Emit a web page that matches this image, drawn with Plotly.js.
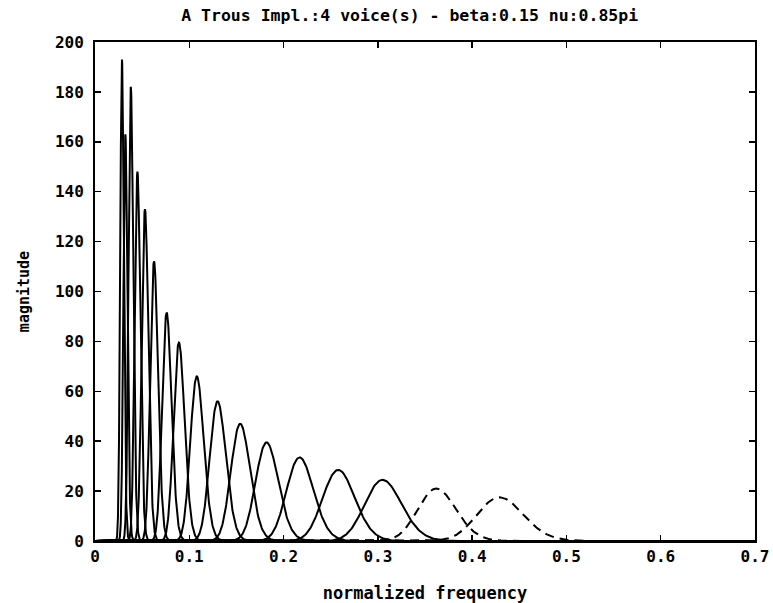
<!DOCTYPE html>
<html>
<head>
<meta charset="utf-8">
<script src="https://cdn.plot.ly/plotly-3.0.1.min.js"></script>
<style>html,body{margin:0;padding:0;background:#fff;}#chart{width:773px;height:603px;}</style>
</head>
<body>
<div id="chart"></div>
<script>
// Peak centre frequencies (normalized)
const peakCenters = [0.0286, 0.0322, 0.038, 0.045, 0.053, 0.0626, 0.076, 0.089, 0.108, 0.130, 0.154, 0.182, 0.217, 0.258, 0.305, 0.362, 0.429];
// Peak magnitudes
const peakHeights = [193, 163, 182, 148, 133, 112, 91.5, 79.5, 66, 56, 47, 39.5, 33.5, 28.5, 24.5, 21, 17.5];
// Relative (log-frequency) widths of each bell
const peakWidths = [0.066, 0.066, 0.066, 0.066, 0.066, 0.066, 0.066, 0.066, 0.066, 0.066, 0.066, 0.066, 0.066, 0.066, 0.064, 0.056, 0.057];
// Line style per peak: last two are dashed
const peakDashed = [false, false, false, false, false, false, false, false, false, false, false, false, false, false, false, true, true];

const xTickVals = [0, 0.1, 0.2, 0.3, 0.4, 0.5, 0.6, 0.7];
const xTickText = ["0", "0.1", "0.2", "0.3", "0.4", "0.5", "0.6", "0.7"];
const yTickVals = [0, 20, 40, 60, 80, 100, 120, 140, 160, 180, 200];
const yTickText = ["0", "20", "40", "60", "80", "100", "120", "140", "160", "180", "200"];

const traces = peakCenters.map((c, i) => {
  const s = peakWidths[i];
  const xs = [0], ys = [0];
  const n = 160;
  for (let k = 0; k <= n; k++) {
    const u = -4.2 * s + (8.4 * s) * k / n;
    const f = c * Math.exp(u);
    xs.push(f);
    ys.push(peakHeights[i] * Math.exp(-(u * u) / (2 * s * s)));
  }
  xs.push(0.7); ys.push(0);
  return {
    x: xs, y: ys, type: 'scatter', mode: 'lines',
    line: {color: '#000', width: 2, dash: peakDashed[i] ? '9px,6px' : 'solid'},
    hoverinfo: 'skip', showlegend: false
  };
});

const fontFam = '"DejaVu Sans Mono", monospace';
const layout = {
  width: 773, height: 603,
  margin: {l: 95, r: 18, t: 42, b: 62},
  paper_bgcolor: '#fff', plot_bgcolor: '#fff',
  title: {text: '<b>A Trous Impl.:4 voice(s) - beta:0.15 nu:0.85pi</b>', font: {family: fontFam, size: 16.5, color: '#000'}, x: 0.53, xanchor: 'center', y: 0.975, yanchor: 'middle'},
  xaxis: {
    range: [0, 0.7], tickvals: xTickVals, ticktext: xTickText,
    ticks: 'inside', ticklen: 6, tickwidth: 1.5, tickcolor: '#000',
    showline: true, linecolor: '#000', linewidth: 2, mirror: 'ticks',
    showgrid: false, zeroline: false,
    tickfont: {family: fontFam, size: 16, color: '#000', weight: 'bold'},
    title: {text: '<b>normalized frequency</b>', font: {family: fontFam, size: 17, color: '#000'}, standoff: 22}
  },
  yaxis: {
    range: [0, 200], tickvals: yTickVals, ticktext: yTickText,
    ticks: 'inside', ticklen: 6, tickwidth: 1.5, tickcolor: '#000',
    showline: true, linecolor: '#000', linewidth: 2, mirror: 'ticks',
    showgrid: false, zeroline: false,
    tickfont: {family: fontFam, size: 16, color: '#000', weight: 'bold'},
    ticklabelstandoff: 6,
    title: {text: '<b>magnitude</b>', font: {family: fontFam, size: 15, color: '#000'}, standoff: 22}
  }
};

Plotly.newPlot('chart', traces, layout, {displayModeBar: false, staticPlot: true});
</script>
</body>
</html>
